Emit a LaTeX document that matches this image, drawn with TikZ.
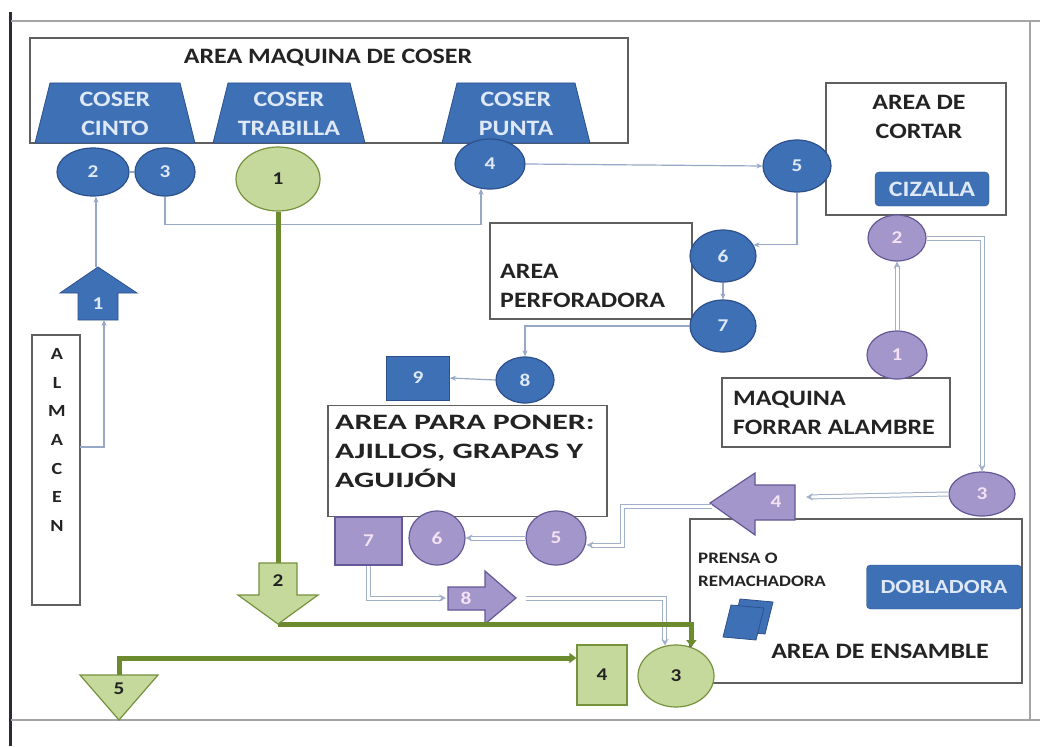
\documentclass[tikz,border=0pt]{standalone}
\usepackage{fontspec}
\setmainfont{Carlito}[FakeStretch=1.18]
\usetikzlibrary{arrows.meta,shapes.geometric}

\definecolor{bfill}{RGB}{62,112,182}
\definecolor{bdraw}{RGB}{45,80,140}
\definecolor{btext}{RGB}{222,232,246}
\definecolor{pfill}{RGB}{162,150,202}
\definecolor{pdraw}{RGB}{100,88,150}
\definecolor{ptext}{RGB}{244,226,244}
\definecolor{gfill}{RGB}{198,217,156}
\definecolor{gdraw}{RGB}{118,146,60}
\definecolor{gline}{RGB}{108,138,46}
\definecolor{conn}{RGB}{150,168,198}
\definecolor{dconn}{RGB}{160,176,202}
\definecolor{boxgray}{RGB}{95,95,95}
\definecolor{framegray}{RGB}{165,165,165}
\definecolor{framedark}{RGB}{40,45,55}
\definecolor{txt}{RGB}{35,35,35}

\newcommand\boxfont{\fontsize{22}{28.5}\selectfont\bfseries}
\newcommand\widefont{\fontsize{22}{29}\selectfont\bfseries\addfontfeature{FakeStretch=1.45}}
\newcommand\numfont{\fontsize{18}{20}\selectfont\bfseries}
\newcommand\smallfont{\fontsize{16}{23}\selectfont\bfseries}
\newcommand\lettfont{\fontsize{17}{28.7}\selectfont\bfseries}

\begin{document}
\begin{tikzpicture}[x=1pt,y=-1pt,
  areabox/.style={draw=boxgray, line width=1.3, fill=white, rectangle, inner sep=0pt},
  lbl/.style={font=\boxfont, text=txt, inner sep=0pt, align=left},
  num/.style={ellipse, inner sep=0pt, line width=1.2, font=\numfont},
  bnum/.style={num, fill=bfill, draw=bdraw, text=btext},
  pnum/.style={num, fill=pfill, draw=pdraw, text=ptext},
  gnum/.style={num, fill=gfill, draw=gdraw, text=txt},
  bshape/.style={fill=bfill, draw=bdraw, line width=0.8},
  pshape/.style={fill=pfill, draw=pdraw, line width=1.2},
  gshape/.style={fill=gfill, draw=gdraw, line width=1.2},
  flow/.style={draw=conn, line width=1.2, -{Stealth[length=6pt,width=5pt]}},
  dflow/.style={draw=dconn, line width=1, double=white, double distance=3pt, -{Stealth[length=7pt,width=7pt]}},
  gflow/.style={draw=gline, line width=5, -{Triangle[length=7pt,width=10pt]}},
  tag/.style={inner sep=0pt, font=\numfont}
]
\fill[white] (0,0) rectangle (1040,746);
\useasboundingbox (0,0) rectangle (1040,746);

% outer frame
\draw[framedark, line width=3] (10,12) -- (10,746);
\draw[framegray, line width=2] (11,21) -- (1040,21);
\draw[framegray, line width=1.5] (1030,21) -- (1030,720);
\draw[framegray, line width=2] (11,720) -- (1040,720);

% ---------- area boxes ----------
\node[areabox, minimum width=598, minimum height=105] (maq) at (329,90.5) {};
\node[lbl] (maqT) at (328,58) {AREA MAQUINA DE COSER};

\node[areabox, minimum width=48, minimum height=270] (alm) at (56,470) {};
\node[inner sep=0pt, font=\lettfont, align=center, text=txt] (almT) at (57,440) {A\\L\\M\\A\\C\\E\\N};

\node[areabox, minimum width=180, minimum height=132] (cortar) at (916,149) {};
\node[lbl, align=center] (cortarT) at (919,117) {AREA DE\\CORTAR};
\node[fill=bfill, draw=bdraw, rounded corners=4, minimum width=114, minimum height=34,
      text=btext, font=\boxfont, inner sep=0pt] (ciz) at (932,189) {CIZALLA};

\node[areabox, minimum width=202, minimum height=96] (perf) at (591,271) {};
\node[lbl, anchor=west] (perfT) at (500,286) {AREA\\PERFORADORA};

\node[areabox, minimum width=279, minimum height=111] (poner) at (467.5,461) {};
\node[inner sep=0pt, font=\widefont, text=txt, align=left, anchor=north west] (ponerT) at (335,415) {AREA PARA PONER:\\AJILLOS, GRAPAS Y\\AGUIJÓN};

\node[areabox, minimum width=228, minimum height=69] (forrar) at (836,412.5) {};
\node[lbl, anchor=west] (forrarT) at (733,413) {MAQUINA\\FORRAR ALAMBRE};

\node[areabox, minimum width=332, minimum height=164] (ens) at (856,601) {};
\node[inner sep=0pt, font=\smallfont, text=txt, align=left, anchor=west] (prensaT) at (698,570) {PRENSA O\\REMACHADORA};
\node[fill=bfill, draw=bdraw, rounded corners=4, minimum width=155, minimum height=44,
      text=btext, font=\fontsize{20}{22}\selectfont\bfseries, inner sep=0pt] (dobl) at (944,587) {DOBLADORA};
\node[lbl] (ensT) at (880,651) {AREA DE ENSAMBLE};
% stacked sheets of the press
\filldraw[bshape] (740,599) -- (773,602) -- (765,634) -- (732,631) -- cycle;
\filldraw[bshape] (731,605) -- (764,608) -- (756,640) -- (723,637) -- cycle;

% ---------- sewing machines ----------
\filldraw[bshape] (35,143) -- (50,83) -- (180,83) -- (195,143) -- cycle;
\node[lbl, text=btext, align=center] (cinto) at (115,114) {COSER\\CINTO};
\filldraw[bshape] (213,143) -- (228,83) -- (350,83) -- (365,143) -- cycle;
\node[lbl, text=btext, align=center] (trab) at (289,114) {COSER\\TRABILLA};
\filldraw[bshape] (442,143) -- (457,83) -- (575,83) -- (590,143) -- cycle;
\node[lbl, text=btext, align=center] (punta) at (516,114) {COSER\\PUNTA};

% ---------- blue sequence ----------
\filldraw[bshape] (78,320) -- (78,293) -- (60,293) -- (98,267) -- (137,293) -- (118,293) -- (118,320) -- cycle;
\node[tag, text=btext] (a1) at (98,304) {1};
\coordinate (a1tip) at (96,267);
\coordinate (a1base) at (104,320);
\coordinate (almout) at (80,447);

\node[bnum, minimum width=72, minimum height=48] (b2) at (93,172) {2};
\node[bnum, minimum width=60, minimum height=48] (b3) at (165,172) {3};
\node[bnum, minimum width=70, minimum height=50] (b4) at (490,164) {4};
\node[bnum, minimum width=68, minimum height=52] (b5) at (797,166) {5};
\node[bnum, minimum width=66, minimum height=52] (b6) at (723,256) {6};
\node[bnum, minimum width=66, minimum height=52] (b7) at (723,326) {7};
\node[bnum, minimum width=58, minimum height=46] (b8) at (525,380) {8};
\node[rectangle, fill=bfill, draw=bdraw, line width=0.8, minimum width=63, minimum height=44,
      inner sep=0pt, text=btext, font=\numfont] (b9) at (418,378) {9};

\draw[flow] (almout) -| (a1base);
\draw[flow] (a1tip) -- (a1tip |- b2.south);
\draw[draw=conn, line width=1.2] (b2.east) -- (b3.west);
\draw[flow] (b3.south) -- ++(0,28) -| (b4.250);
\draw[flow] (b4.east) -- (b5.west);
\draw[flow] (b5.south) |- (b6.20);
\draw[flow] (b6.south) -- (b7.north);
\draw[flow] (b7.west) -| (b8.north);
\draw[flow] (b8.west) -- (b9.east);

% ---------- purple sequence ----------
\node[pnum, minimum width=60, minimum height=48] (p1) at (897,355) {1};
\node[pnum, minimum width=58, minimum height=46] (p2) at (897,238) {2};
\node[pnum, minimum width=66, minimum height=44] (p3) at (982,494) {3};
\filldraw[pshape] (710,503) -- (755,473) -- (755,485) -- (795,485) -- (795,520) -- (755,520) -- (755,535) -- cycle;
\node[tag, text=ptext] (a4) at (776,502) {4};
\coordinate (a4tip) at (712,506);
\coordinate (a4in) at (806,497);
\coordinate (k4) at (622,545);
\node[pnum, minimum width=60, minimum height=54] (p5) at (556,538) {5};
\node[pnum, minimum width=56, minimum height=54] (p6) at (437,538) {6};
\node[rectangle, fill=pfill, draw=pdraw, line width=1.2, minimum width=67, minimum height=48,
      inner sep=0pt, text=ptext, font=\numfont] (p7) at (368.5,541) {7};
\filldraw[pshape] (448,587) -- (485,587) -- (485,571) -- (516,598) -- (485,624) -- (485,610) -- (448,610) -- cycle;
\node[tag, text=ptext] (a8) at (466,598) {8};
\coordinate (a8in) at (446,598);
\coordinate (a8out) at (526,598);

\draw[dflow] (p1.north) -- (p2.south);
\draw[dflow] (p2.east) -| (p3.north);
\draw[dflow] (p3.west) -- (a4in);
\draw[dflow] (a4tip) -| (k4) -- (k4 -| p5.east);
\draw[dflow] (p5.west) -- (p6.east);
\draw[dflow] (p7.south) |- (a8in);

% ---------- green sequence ----------
\node[gnum, minimum width=84, minimum height=64] (g1) at (278,179) {1};
\node[gnum, minimum width=76, minimum height=62] (g3) at (676,676) {3};
\node[rectangle, fill=gfill, draw=gdraw, line width=1.2, minimum width=50, minimum height=60,
      inner sep=0pt, text=txt, font=\numfont] (g4) at (602,675) {4};
\coordinate (a2top) at (278,563);
\coordinate (a2tip) at (278,624);
\coordinate (t5top) at (119,675);

\draw[dflow] (a8out) -| (g3.110);
\draw[draw=gline, line width=5] (g1.south) -- (a2top);
\draw[gflow] (a2tip) -| (g3.62);
\draw[gflow] (t5top) |- ([yshift=17pt]g4.west);

\filldraw[gshape] (259,563) -- (297,563) -- (297,595) -- (318,595) -- (278,624) -- (238,595) -- (259,595) -- cycle;
\node[tag, text=txt] (a2) at (278,581) {2};
\filldraw[gshape] (80,675) -- (158,675) -- (119,720) -- cycle;
\node[tag, text=txt] (t5) at (119,689) {5};
\end{tikzpicture}
\end{document}
